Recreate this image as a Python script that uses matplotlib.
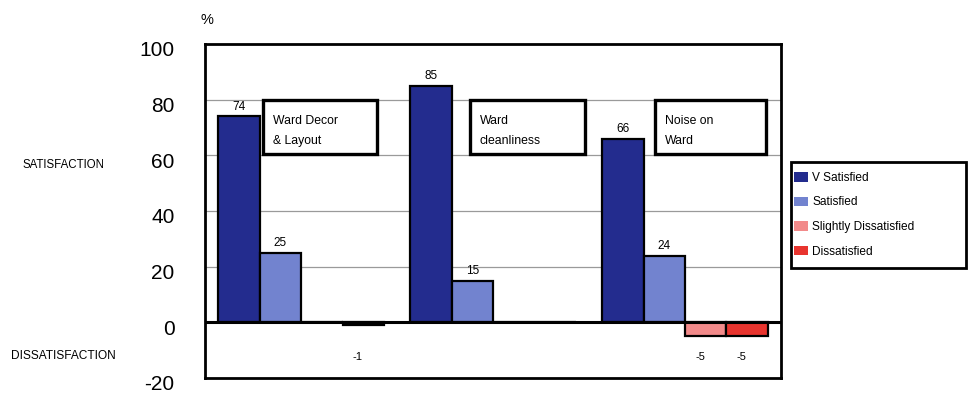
import matplotlib
matplotlib.use("Agg")
import matplotlib.pyplot as plt
from matplotlib.patches import Rectangle
from matplotlib.transforms import ScaledTranslation
import numpy as np

plt.rcParams['font.family'] = ['Liberation Sans', 'DejaVu Sans']

categories = ["Ward Decor\n& Layout", "Ward\ncleanliness", "Noise on\nWard"]
series_names = ["V Satisfied", "Satisfied", "Slightly Dissatisfied", "Dissatisfied"]
v_satisfied = [74, 85, 66]
satisfied = [25, 15, 24]
slightly_dissatisfied = [0, 0, -5]
dissatisfied = [-1, 0, -5]
y_ticks = [-20, 0, 20, 40, 60, 80, 100]

colors = ["#232c8e", "#7283cf", "#f28a8a", "#e8342e"]
series = [v_satisfied, satisfied, slightly_dissatisfied, dissatisfied]

fig = plt.figure(figsize=(9.69, 3.96), dpi=100)
ax = fig.add_axes([0.2116, 0.0455, 0.5944, 0.8434])

x = np.arange(len(categories))
width = 0.216
offsets = (np.arange(4) - 1.5) * width

for y in [20, 40, 60, 80]:
    ax.axhline(y, color="#9a9a9a", lw=0.9, zorder=0)
ax.axhline(0, color="black", lw=2.2, zorder=4)

handles = []
for vals, off, col, name in zip(series, offsets, colors, series_names):
    bars = ax.bar(x + off, vals, width, color=col, edgecolor="black",
                  linewidth=1.6, zorder=3, label=name)
    handles.append(bars)
    for xi, v in zip(x + off, vals):
        if v > 0:
            ax.text(xi, v + 1.2, f"{v}", ha="center", va="bottom", fontsize=8.5)
        elif v < 0:
            ax.text(xi - 0.03, -12.5, f"-{abs(v)}", ha="center", va="center",
                    fontsize=8)

# category caption boxes
box_x = [(-0.198, 0.396), (0.881, 1.480), (1.845, 2.423)]
for (x0, x1), cat in zip(box_x, categories):
    ax.add_patch(Rectangle((x0, 60.5), x1 - x0, 19.3, facecolor="white",
                           edgecolor="black", lw=2.4, zorder=5))
    ax.text(x0 + 0.05, 68.8, cat, ha="left", va="center", fontsize=8.8,
            linespacing=1.9, zorder=6)

ax.set_xlim(-0.5, 2.5)
ax.set_ylim(-20, 100)
ax.set_yticks(y_ticks)
ax.set_yticklabels([str(t) for t in y_ticks], fontsize=15)
ax.tick_params(axis="y", length=0, pad=22)
shift = ScaledTranslation(0, -5 / 100, fig.dpi_scale_trans)
for lab in ax.get_yticklabels():
    lab.set_transform(lab.get_transform() + shift)
ax.set_xticks([])
for s in ax.spines.values():
    s.set_linewidth(2.0)
    s.set_color("black")

fig.text(0.214, 0.95, "%", fontsize=10.5, ha="center", va="center")
fig.text(0.066, 0.583, "SATISFACTION", fontsize=8.3, ha="center", va="center")
fig.text(0.065, 0.101, "DISSATISFACTION", fontsize=8.6, ha="center", va="center")

# legend with a framed box
fig.patches.append(Rectangle((0.8165, 0.323), 0.1805, 0.268,
                             transform=fig.transFigure, facecolor="white",
                             edgecolor="black", lw=2.0, zorder=1))
leg = fig.legend(handles=handles, labels=series_names, loc="upper left",
                 bbox_to_anchor=(0.814, 0.578), frameon=False, fontsize=8.6,
                 handlelength=1.25, handleheight=0.85, handletextpad=0.3,
                 labelspacing=1.05, borderaxespad=0)
for h in leg.legend_handles:
    h.set_linewidth(0)

fig.savefig("out.png", dpi=100)
